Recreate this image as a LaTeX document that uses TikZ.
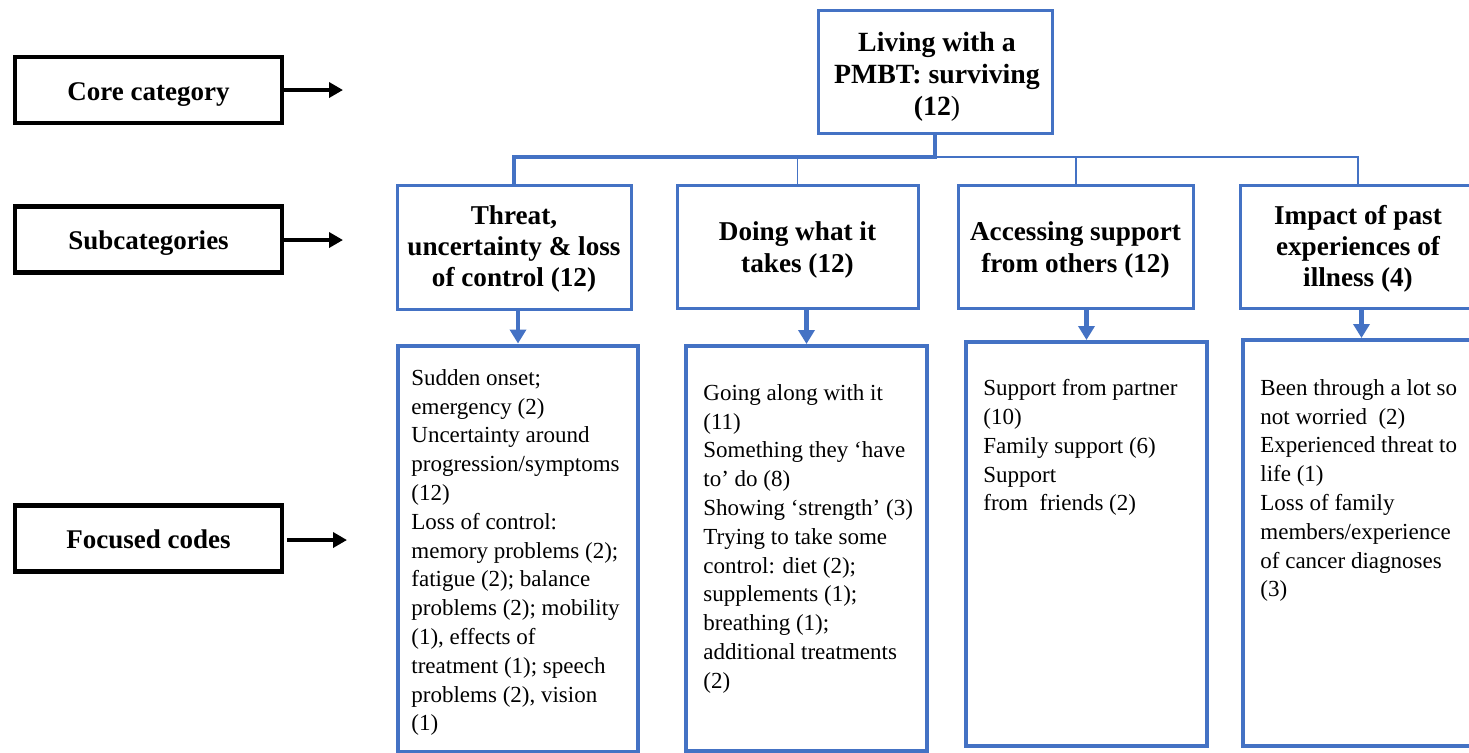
\documentclass[tikz,border=0pt]{standalone}
\usepackage{fontspec}
\setmainfont{Liberation Serif}
\usetikzlibrary{arrows.meta}
\definecolor{wblue}{HTML}{4472C4}
\begin{document}
\begin{tikzpicture}[x=0.5pt,y=-0.5pt,
  lbl/.style={draw=black,line width=2.2pt,minimum width=133.5pt,minimum height=33pt,inner sep=0pt,
    text height=12pt,text depth=2pt,
    font=\fontsize{13.5}{16}\selectfont\bfseries},
  sub/.style={draw=wblue,line width=1.5pt,inner sep=0pt,align=center,
    font=\fontsize{13.6}{15.6}\selectfont\bfseries},
  subtext/.style={inner sep=0pt,align=center,font=\fontsize{13.6}{15.6}\selectfont\bfseries},
  code/.style={draw=wblue,line width=2pt,inner sep=0pt},
  codetext/.style={anchor=north west,align=left,inner sep=0pt,
    font=\fontsize{11.5}{14.4}\selectfont},
  blk/.style={line width=2pt,-{Triangle[length=7pt,width=7.5pt]}},
  barr/.style={draw=wblue,line width=2.2pt,-{Triangle[length=7pt,width=8pt]},color=wblue},
]
\useasboundingbox (0,0) rectangle (1469,752);
\fill[white] (0,0) rectangle (1469,752);

% level labels
\node[lbl] (core) at (148.5,90) {Core category};
\node[lbl] (subl) at (148.5,239.5) {Subcategories};
\node[lbl] (focl) at (148.5,538.5) {Focused codes};
\coordinate (ce) at (343,90);
\coordinate (se) at (343,240);
\coordinate (fs) at (287,540);
\coordinate (fe) at (347,540);
\draw[blk] (core.east) -- (ce);
\draw[blk] (subl.east |- se) -- (se);
\draw[blk] (fs) -- (fe);

% core category
\node[sub,minimum width=117pt,minimum height=61.5pt] (top) at (935,71.5) {};
\node[subtext,font=\fontsize{13.9}{16}\selectfont\bfseries] (toptext) at (937,77)
  {Living with a\\PMBT: surviving\\(12\textmd{)}};

% subcategories
\node[sub,minimum width=117pt,minimum height=62pt] (s1) at (514,247) {};
\node[subtext] (s1t) at (514,249) {Threat,\\uncertainty \& loss\\of control (12)};
\node[sub,minimum width=120.5pt,minimum height=61.5pt] (s2) at (797.5,246.5) {};
\node[subtext] (s2t) at (797.5,250) {Doing what it\\takes (12)};
\node[sub,minimum width=117.5pt,minimum height=61.5pt] (s3) at (1075.5,246.5) {};
\node[subtext] (s3t) at (1075.5,250) {Accessing support\\from others (12)};
\node[sub,minimum width=118pt,minimum height=61.5pt] (s4) at (1358,246.5) {};
\node[subtext] (s4t) at (1358,249) {Impact of past\\experiences of\\illness (4)};

% bus
\coordinate (j0) at (935,157);
\coordinate (j1) at (514,157);
\coordinate (j2) at (797.5,157);
\coordinate (j3) at (1075.5,157);
\coordinate (j4) at (1358,157);
\draw[wblue,line width=2pt] (top.south) -- (j0) -- (j1) -- (s1.north);
\draw[wblue,line width=1pt] (j0) -- (j4) -- (s4.north);
\draw[wblue,line width=1pt] (j3) -- (s3.north);
\draw[wblue,line width=0.5pt] (j2) -- (s2.north);

% focused codes boxes
\node[code,minimum width=120pt,minimum height=203pt] (c1) at (518,548.5) {};
\node[code,minimum width=120.5pt,minimum height=202.5pt] (c2) at (806.5,548.5) {};
\node[code,minimum width=120.5pt,minimum height=202pt] (c3) at (1086.5,544) {};
\node[code,minimum width=118.5pt,minimum height=203pt] (c4) at (1361.5,543) {};

\draw[barr] (s1.south -| c1.north) -- (c1.north);
\draw[barr] (s2.south -| c2.north) -- (c2.north);
\draw[barr] (s3.south -| c3.north) -- (c3.north);
\draw[barr] (s4.south -| c4.north) -- (c4.north);

\node[codetext] (t1) at (411,369) {Sudden onset;\\emergency (2)\\Uncertainty around\\progression/symptoms\\(12)\\Loss of control:\\memory problems (2);\\fatigue (2); balance\\problems (2); mobility\\(1), effects of\\treatment (1); speech\\problems (2), vision\\(1)};
\node[codetext] (t2) at (703,384) {Going along with it\\(11)\\Something they ‘have\\to’ do (8)\\Showing ‘strength’ (3)\\Trying to take some\\control: diet (2);\\supplements (1);\\breathing (1);\\additional treatments\\(2)};
\node[codetext] (t3) at (983,379) {Support from partner\\(10)\\Family support (6)\\Support\\from\ \ friends (2)};
\node[codetext] (t4) at (1260,379) {Been through a lot so\\not worried\ \ (2)\\Experienced threat to\\life (1)\\Loss of family\\members/experience\\of cancer diagnoses\\(3)};
\end{tikzpicture}
\end{document}
